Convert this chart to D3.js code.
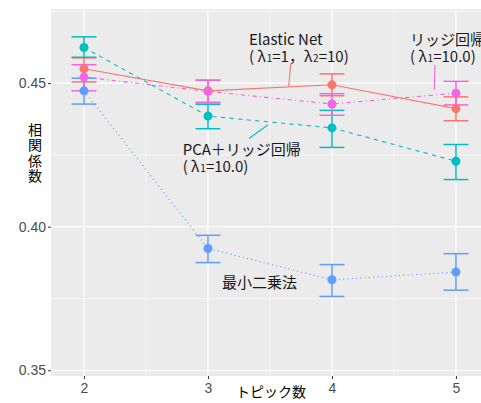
<!DOCTYPE html>
<html>
<head>
<meta charset="utf-8">
<script src="https://cdn.jsdelivr.net/npm/d3@7"></script>
<style>
  body { margin: 0; background: #fff; }
  text { font-family: "Noto Sans CJK JP", "Noto Sans", sans-serif; }
</style>
</head>
<body>
<svg id="chart" width="481" height="403"></svg>
<script>
// data
var topics = [2, 3, 4, 5];
var methods = ["Elastic Net", "PCA＋リッジ回帰", "最小二乗法", "リッジ回帰"];

var elasticMean = [0.4550, 0.4473, 0.4494, 0.4411];
var elasticLow  = [0.4504, 0.4433, 0.4456, 0.4369];
var elasticHigh = [0.4588, 0.4510, 0.4532, 0.4452];

var pcaMean = [0.4624, 0.4385, 0.4344, 0.4228];
var pcaLow  = [0.4590, 0.4341, 0.4276, 0.4164];
var pcaHigh = [0.4661, 0.4426, 0.4405, 0.4286];

var olsMean = [0.4473, 0.3924, 0.3815, 0.3842];
var olsLow  = [0.4427, 0.3875, 0.3757, 0.3779];
var olsHigh = [0.4517, 0.3970, 0.3868, 0.3906];

var ridgeMean = [0.4521, 0.4471, 0.4427, 0.4465];
var ridgeLow  = [0.4473, 0.4431, 0.4388, 0.4424];
var ridgeHigh = [0.4564, 0.4510, 0.4463, 0.4506];

var yTicks = [0.35, 0.40, 0.45];
var yMinor = [0.375, 0.425, 0.475];
var xMinor = [2.5, 3.5, 4.5];

var colors = ["#F8766D", "#00BFC4", "#619CFF", "#F564E3"];
var dashes = [null, "4.3,4.3", "1.1,3.2", "1.1,3.2,4.3,3.2"];

var series = [
  {name: methods[0], mean: elasticMean, low: elasticLow, high: elasticHigh},
  {name: methods[1], mean: pcaMean, low: pcaLow, high: pcaHigh},
  {name: methods[2], mean: olsMean, low: olsLow, high: olsHigh},
  {name: methods[3], mean: ridgeMean, low: ridgeLow, high: ridgeHigh}
];

var svg = d3.select("#chart");
var pLeft = 51, pTop = 9, pRight = 482, pBottom = 376;

var x = d3.scaleLinear().domain([1.734, 5.21]).range([pLeft, pRight]);
var y = d3.scaleLinear().domain([0.348, 0.4758]).range([pBottom, pTop]);

// panel
svg.append("rect")
  .attr("x", pLeft).attr("y", pTop)
  .attr("width", pRight - pLeft).attr("height", pBottom - pTop)
  .attr("fill", "#EBEBEB");

var grid = svg.append("g");
grid.selectAll(".ymin").data(yMinor).enter().append("line")
  .attr("x1", pLeft).attr("x2", pRight)
  .attr("y1", d => y(d)).attr("y2", d => y(d))
  .attr("stroke", "#fff").attr("stroke-width", 0.6);
grid.selectAll(".xmin").data(xMinor).enter().append("line")
  .attr("y1", pTop).attr("y2", pBottom)
  .attr("x1", d => x(d)).attr("x2", d => x(d))
  .attr("stroke", "#fff").attr("stroke-width", 0.6);
grid.selectAll(".ymaj").data(yTicks).enter().append("line")
  .attr("x1", pLeft).attr("x2", pRight)
  .attr("y1", d => y(d)).attr("y2", d => y(d))
  .attr("stroke", "#fff").attr("stroke-width", 1.2);
grid.selectAll(".xmaj").data(topics).enter().append("line")
  .attr("y1", pTop).attr("y2", pBottom)
  .attr("x1", d => x(d)).attr("x2", d => x(d))
  .attr("stroke", "#fff").attr("stroke-width", 1.2);

// axes
var yAxis = d3.axisLeft(y).tickValues(yTicks).tickFormat(d3.format(".2f")).tickSize(3).tickPadding(2);
var xAxis = d3.axisBottom(x).tickValues(topics).tickFormat(d3.format("d")).tickSize(3).tickPadding(4);

var gy = svg.append("g").attr("transform", "translate(" + pLeft + ",0)").call(yAxis);
var gx = svg.append("g").attr("transform", "translate(0," + pBottom + ")").call(xAxis);
[gx, gy].forEach(function(g) {
  g.select(".domain").remove();
  g.selectAll(".tick line").attr("stroke", "#333333");
  g.selectAll(".tick text")
    .attr("fill", "#4D4D4D")
    .style("font-family", "'Liberation Sans', Arial, sans-serif")
    .style("font-size", "14px");
});

// axis titles
svg.append("text")
  .attr("x", 271).attr("y", 397)
  .attr("text-anchor", "middle")
  .style("font-size", "14px").attr("fill", "#000")
  .text("トピック数");

// vertical title, one character per row
svg.append("g").selectAll("text").data("相関係数".split("")).enter().append("text")
  .attr("x", 35).attr("y", (d, i) => 135 + i * 15.3)
  .attr("text-anchor", "middle")
  .style("font-size", "14px").attr("fill", "#000")
  .text(d => d);

// lines
var line = d3.line().x((d, i) => x(topics[i])).y(d => y(d));
series.forEach(function(s, k) {
  svg.append("path")
    .attr("d", line(s.mean))
    .attr("fill", "none")
    .attr("stroke", colors[k])
    .attr("stroke-width", 1.1)
    .attr("stroke-dasharray", dashes[k]);
});

// error bars
series.forEach(function(s, k) {
  var g = svg.append("g").attr("stroke", colors[k]).attr("stroke-width", 1.5);
  topics.forEach(function(t, i) {
    g.append("line").attr("x1", x(t)).attr("x2", x(t))
      .attr("y1", y(s.low[i])).attr("y2", y(s.high[i]));
    g.append("line").attr("x1", x(t - 0.1)).attr("x2", x(t + 0.1))
      .attr("y1", y(s.low[i])).attr("y2", y(s.low[i]));
    g.append("line").attr("x1", x(t - 0.1)).attr("x2", x(t + 0.1))
      .attr("y1", y(s.high[i])).attr("y2", y(s.high[i]));
  });
});

// points
series.forEach(function(s, k) {
  svg.append("g").selectAll("circle").data(s.mean).enter().append("circle")
    .attr("cx", (d, i) => x(topics[i]))
    .attr("cy", d => y(d))
    .attr("r", 4.5)
    .attr("fill", colors[k]);
});

// labels with leader lines
var labels = [
  {k: 0, x: 3.331, y: 0.4631, line1: "Elastic Net", sub: ["( λ\u200a", "1", "=1，λ\u200a", "2", "=10)"], lx1: 3.667, ly1: 0.4566, lx2: 3.651, ly2: 0.4488},
  {k: 3, x: 4.629, y: 0.4631, line1: "リッジ回帰", sub: ["( λ\u200a", "1", "=10.0)"], lx1: 4.831, ly1: 0.4564, lx2: 4.825, ly2: 0.4477},
  {k: 1, x: 2.796, y: 0.4251, line1: "PCA＋リッジ回帰", sub: ["( λ\u200a", "1", "=10.0)"], lx1: 3.331, ly1: 0.4307, lx2: 3.484, ly2: 0.4355},
  {k: 2, x: 3.113, y: 0.3786, line1: "最小二乗法", sub: null}
];

labels.forEach(function(l) {
  if (l.lx1 != null) {
    svg.append("line")
      .attr("x1", x(l.lx1)).attr("y1", y(l.ly1))
      .attr("x2", x(l.lx2)).attr("y2", y(l.ly2))
      .attr("stroke", colors[l.k]).attr("stroke-width", 1.1);
  }
  svg.append("text")
    .attr("x", x(l.x)).attr("y", y(l.y))
    .style("font-size", "15px").attr("fill", "#1A1A1A")
    .text(l.line1);
  if (l.sub) {
    var t = svg.append("text")
      .attr("x", x(l.x)).attr("y", y(l.y) + 17)
      .style("font-size", "15px").attr("fill", "#1A1A1A");
    l.sub.forEach(function(part, j) {
      var ts = t.append("tspan").text(part);
      if (j % 2 == 1) ts.style("font-size", "10px");
    });
  }
});
</script>
</body>
</html>
